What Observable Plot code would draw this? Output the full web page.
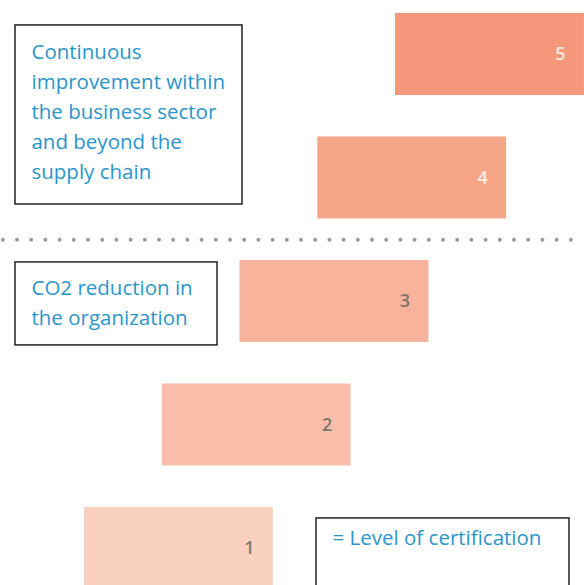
<!DOCTYPE html>
<html>
<head>
<meta charset="utf-8">
<script src="https://cdn.jsdelivr.net/npm/d3@7"></script>
<script src="https://cdn.jsdelivr.net/npm/@observablehq/plot@0.6"></script>
<style>
  html, body { margin: 0; padding: 0; background: #ffffff; }
  #chart svg { display: block; overflow: hidden; }
</style>
</head>
<body>
<div id="chart"></div>
<script>
// ---- Data ----
const levels = [1, 2, 3, 4, 5];
const levelLabels = ["1", "2", "3", "4", "5"];
const barColors = ["#fad1c1", "#f8bea9", "#f7b39b", "#f6a586", "#f4977a"];
const labelColors = ["#86786f", "#7f7570", "#7f7570", "#fdeae2", "#fdeae2"];
const noteTexts = [
  "Continuous\nimprovement within\nthe business sector\nand beyond the\nsupply chain",
  "CO2 reduction in\nthe organization"
];
const legendText = "= Level of certification";
const dividerLevel = [3.5];

// ---- Layout (in level units) ----
const BAR_W = 2.43;
const BAR_H = 0.664;
const LABEL_OFF = 0.31;
const noteBoxes = [
  {x1: 0.1125, x2: 3.032, y1: 3.785, y2: 5.235, tx: 0.318, ty: 4.553},
  {x1: 0.1125, x2: 2.711, y1: 2.644, y2: 3.316, tx: 0.318, ty: 3.008}
];
const legendBox = {x1: 3.984, x2: 7.238, y1: 0.64, y2: 1.243, tx: 4.19, ty: 1.081};

const notes = noteTexts.map((t, i) => ({text: t, ...noteBoxes[i]}));
const bars = levels.map((l, i) => ({level: l, label: levelLabels[i], fill: barColors[i], lc: labelColors[i]}));

const FONT = "'Open Sans', Lato, sans-serif";
const BLUE = "#2a96cb";
const FS = 20.5;

const chart = Plot.plot({
  width: 584,
  height: 585,
  margin: 0,
  x: {domain: [-0.0804, 7.431], axis: null},
  y: {domain: [0.700, 5.437], axis: null},
  color: {type: "identity"},
  style: {fontFamily: FONT, background: "#ffffff"},
  marks: [
    Plot.ruleY(dividerLevel, {
      stroke: "#9a9a9a", strokeWidth: 4, strokeLinecap: "round",
      strokeDasharray: "0 14.2", strokeDashoffset: 11.4
    }),
    Plot.rect(bars, {
      x1: d => d.level, x2: d => d.level + BAR_W,
      y1: d => d.level - BAR_H / 2, y2: d => d.level + BAR_H / 2,
      fill: d => d.fill
    }),
    Plot.text(bars, {
      x: d => d.level + BAR_W - LABEL_OFF, y: d => d.level,
      text: d => d.label, fill: d => d.lc,
      fontSize: 18, fontWeight: 600, textAnchor: "middle"
    }),
    Plot.rect(notes, {
      x1: "x1", x2: "x2", y1: "y1", y2: "y2",
      fill: "#ffffff", stroke: "#222222", strokeWidth: 1.5
    }),
    Plot.text(notes, {
      x: "tx", y: "ty", text: "text",
      fill: BLUE, fontSize: FS, lineHeight: 30 / FS,
      textAnchor: "start", lineAnchor: "middle"
    }),
    Plot.rect([legendBox], {
      x1: "x1", x2: "x2", y1: "y1", y2: "y2",
      fill: "#ffffff", stroke: "#222222", strokeWidth: 1.5
    }),
    Plot.text([legendBox], {
      x: "tx", y: "ty", text: () => legendText,
      fill: BLUE, fontSize: FS, textAnchor: "start", lineAnchor: "middle"
    })
  ]
});
document.getElementById("chart").appendChild(chart);
</script>
</body>
</html>
